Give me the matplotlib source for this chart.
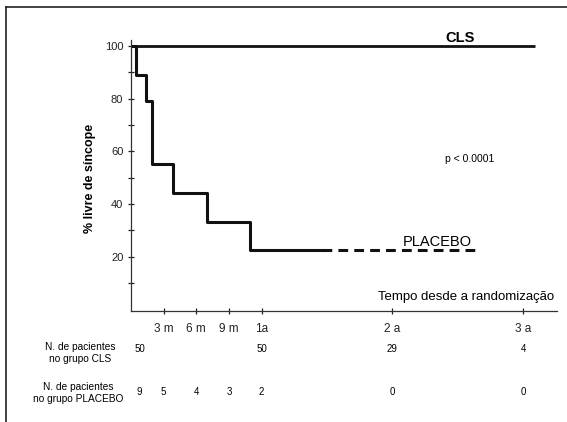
import matplotlib.pyplot as plt
from matplotlib.lines import Line2D

plt.rcParams['font.family'] = ['Liberation Sans', 'DejaVu Sans']

# tempo em meses
cls_t = [0, 37.1]
cls_s = [100, 100]

placebo_t = [0, 0.43, 1.35, 1.9, 3.9, 7.0, 10.9, 17.5]
placebo_s = [100, 89, 79, 55, 44, 33, 22.5, 22.5]
placebo_dash_t = [17.5, 31.6]
placebo_dash_s = [22.5, 22.5]

tick_pos = [3, 6, 9, 12, 24, 36]
tick_lab = ["3 m", "6 m", "9 m", "1a", "2 a", "3 a"]

n_pos = [0.8, 3, 6, 9, 12, 24, 36]
n_cls = ["50", "", "", "", "50", "29", "4"]
n_placebo = ["9", "5", "4", "3", "2", "0", "0"]

fig = plt.figure(figsize=(5.67, 4.22), dpi=100)
ax = fig.add_axes([131/567, 1 - 311/422, 426/567, 271/422])

ax.plot(cls_t, cls_s, color='#111111', lw=2.0, solid_capstyle='butt')
ax.step(placebo_t, placebo_s, where='post', color='#111111', lw=2.2)
ax.plot(placebo_dash_t, placebo_dash_s, color='#111111', lw=2.2, dashes=(3.2, 2))

ax.set_xlim(0, 39.1)
ax.set_ylim(-0.6, 102.2)
for s in ['top', 'right']:
    ax.spines[s].set_visible(False)
for s in ['left', 'bottom']:
    ax.spines[s].set_linewidth(0.9)
    ax.spines[s].set_color('#333333')

ax.set_yticks([20, 40, 60, 80, 100])
ax.set_yticks([10, 30, 50, 70, 90], minor=True)
ax.tick_params(axis='y', which='both', direction='inout', length=5, width=0.9,
               labelsize=8, pad=3, colors='#222222')
ax.set_xticks(tick_pos)
ax.set_xticklabels(tick_lab)
ax.tick_params(axis='x', direction='inout', length=5, width=0.9,
               labelsize=8.5, pad=6, colors='#222222')

ax.text(30.2, 100.3, "CLS", fontsize=10.5, fontweight='bold', ha='center', va='bottom')
ax.text(28.1, 22.8, "PLACEBO", fontsize=10.5, ha='center', va='bottom')
ax.text(31.1, 57, "p < 0.0001", fontsize=7.5, ha='center', va='center')
ax.text(38.8, 4.8, "Tempo desde a randomização", fontsize=9.5, ha='right', va='center')

fig.text(90/567, 1 - 178/422, "% livre de síncope", rotation=90, fontsize=9,
         fontweight='bold', ha='center', va='center')

trans = ax.get_xaxis_transform()
for x, a, b in zip(n_pos, n_cls, n_placebo):
    ax.text(x, (311 - 349)/271, a, transform=trans, fontsize=7, ha='center', va='center')
    ax.text(x, (311 - 392)/271, b, transform=trans, fontsize=7, ha='center', va='center')

fig.text(80/567, 1 - 353/422, "N. de pacientes\nno grupo CLS", fontsize=7.3,
         ha='center', va='center', linespacing=1.3)
fig.text(78/567, 1 - 393/422, "N. de pacientes\nno grupo PLACEBO", fontsize=7.3,
         ha='center', va='center', linespacing=1.3)

# moldura
fig.add_artist(Line2D([6/567, 6/567], [0, 1 - 7/422], transform=fig.transFigure,
                      color='#222222', lw=1.2))
fig.add_artist(Line2D([6/567, 1], [1 - 7/422, 1 - 7/422], transform=fig.transFigure,
                      color='#222222', lw=1.2))

fig.savefig("out.png", dpi=100)
